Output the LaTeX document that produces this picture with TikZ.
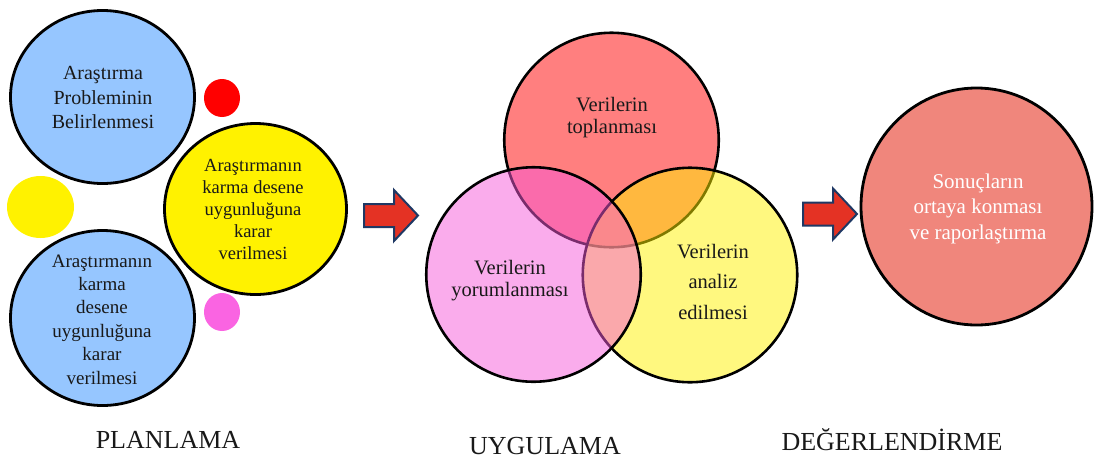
\documentclass[tikz,border=0pt]{standalone}
\usepackage{fontspec}
\setmainfont{Liberation Serif}
\usetikzlibrary{shapes.geometric}

\definecolor{skyblue}{RGB}{150,198,255}
\definecolor{dotpink}{RGB}{250,100,226}
\definecolor{salmon}{RGB}{240,134,124}
\definecolor{arrowred}{RGB}{228,50,36}
\definecolor{arrownavy}{RGB}{31,56,100}
\definecolor{vennpink}{RGB}{245,89,217}
\definecolor{ink}{RGB}{25,25,25}

\tikzset{
  bubble/.style={ellipse, draw=black, line width=2.8pt, inner sep=0pt},
  dot/.style={ellipse, inner sep=0pt, draw=none},
  venn/.style={circle, draw=black, line width=2.6pt, inner sep=0pt,
               minimum size=214.5pt, fill opacity=0.5, text opacity=1},
  txt/.style={align=center, text=ink, inner sep=0pt},
  phase/.style={text=ink, inner sep=0pt, font=\fontsize{26}{30}\selectfont},
  fwdarrow/.pic={
    \draw[fill=arrowred, draw=arrownavy, line width=2pt, line join=miter]
      (1,-11.5) -- (31,-11.5) -- (31,-25.5) -- (55,0) -- (31,25.5)
      -- (31,11.5) -- (1,11.5) -- cycle;
  }
}

\begin{document}
\begin{tikzpicture}[x=1pt, y=-1pt]
\useasboundingbox (0,0) rectangle (1094,464);

% --- planning stage: three bubbles and three small dots
\node[bubble, fill=skyblue, minimum width=184pt, minimum height=173pt] (probl) at (102.5,97) {};
\node[bubble, fill=yellow, minimum width=182pt, minimum height=171pt] (uygun) at (255.5,209) {};
\node[bubble, fill=skyblue, minimum width=184pt, minimum height=175pt] (karma) at (102.5,318) {};
\node[dot, fill=red, minimum width=36pt, minimum height=38pt] (dotr) at (222,98) {};
\node[dot, fill=yellow, minimum width=67pt, minimum height=62pt] (doty) at (40.5,207) {};
\node[dot, fill=dotpink, minimum width=36pt, minimum height=38pt] (dotp) at (222,312) {};

\node[txt, font=\fontsize{20}{24.5}\selectfont] (probltxt) at (103,97.5)
  {Araştırma\\Probleminin\\Belirlenmesi};
\node[txt, font=\fontsize{18.5}{21.8}\selectfont] (uyguntxt) at (253,209.5)
  {Araştırmanın\\karma desene\\uygunluğuna\\karar\\verilmesi};
\node[txt, font=\fontsize{19}{23.4}\selectfont] (karmatxt) at (102,319.5)
  {Araştırmanın\\karma\\desene\\uygunluğuna\\karar\\verilmesi};

% --- application stage: three overlapping sets
\node[venn, fill=red] (topla) at (611.5,140) {};
\node[venn, fill=yellow] (analiz) at (690,275) {};
\node[venn, fill=vennpink] (yorum) at (533.5,274.5) {};

\node[txt, font=\fontsize{20.5}{22}\selectfont] (toplatxt) at (612,118)
  {Verilerin\\toplanması};
\node[txt, font=\fontsize{20.5}{22}\selectfont] (yorumtxt) at (510,281)
  {Verilerin\\yorumlanması};
\node[txt, font=\fontsize{20.5}{30.5}\selectfont] (analiztxt) at (713,281.5)
  {Verilerin\\analiz\\edilmesi};

% --- evaluation stage
\node[bubble, fill=salmon, minimum width=231pt, minimum height=237pt] (sonuc) at (976.5,206.5) {};
\node[txt, text=white, font=\fontsize{21}{25.5}\selectfont] (sonuctxt) at (978,208.5)
  {Sonuçların\\ortaya konması\\ve raporlaştırma};

% --- block arrows between the stages
\pic at (363,215.5) {fwdarrow};
\pic at (802,214) {fwdarrow};

% --- stage captions
\node[phase] (plan) at (168,440) {PLANLAMA};
\node[phase] (uygul) at (545,446) {UYGULAMA};
\node[phase] (deger) at (892,440) {DEĞERLENDİRME};
\end{tikzpicture}
\end{document}
